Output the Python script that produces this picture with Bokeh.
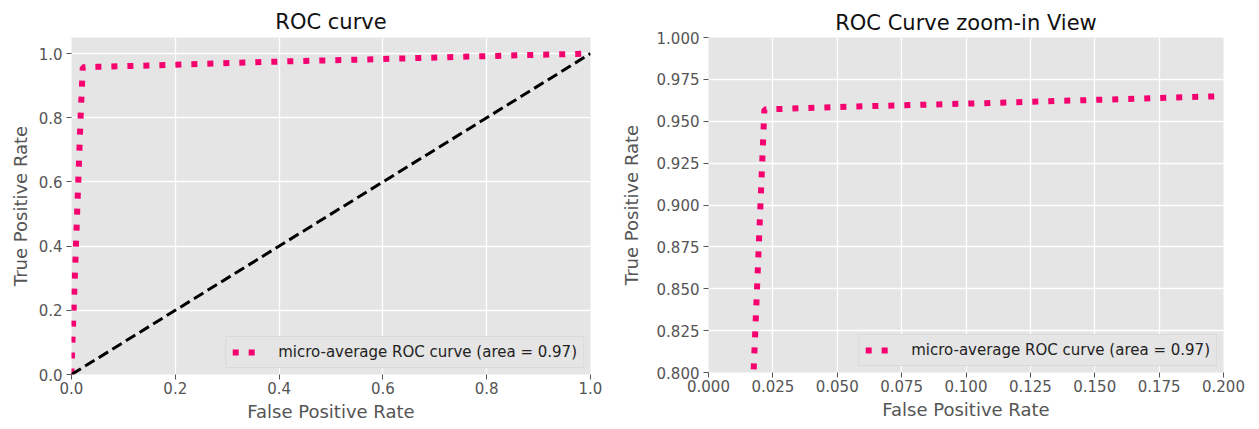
from bokeh.plotting import figure
from bokeh.layouts import row
from bokeh.models import Range1d, FixedTicker, PrintfTickFormatter
from bokeh.embed import file_html
from bokeh.resources import INLINE

# ROC data
fpr = [0.0, 0.0, 0.0175, 0.0217, 0.05, 0.1, 0.2, 0.4, 0.6, 0.8, 1.0]
tpr = [0.0, 0.02, 0.80, 0.957, 0.9585, 0.9605, 0.965, 0.975, 0.983, 0.992, 1.0]
chance_x = [0.0, 1.0]
chance_y = [0.0, 1.0]
legend_text = "micro-average ROC curve (area = 0.97)"

left_xticks = [0.0, 0.2, 0.4, 0.6, 0.8, 1.0]
left_yticks = [0.0, 0.2, 0.4, 0.6, 0.8, 1.0]
right_xticks = [0.0, 0.025, 0.05, 0.075, 0.1, 0.125, 0.15, 0.175, 0.2]
right_yticks = [0.8, 0.825, 0.85, 0.875, 0.9, 0.925, 0.95, 0.975, 1.0]

PINK = "#f5006f"
BG = "#e5e5e5"
FONT = "DejaVu Sans"


def make_fig(title, fw, fh, xr, yr, xt, yt, fmtx, fmty, left, right, top,
             ylab_standoff, title_standoff):
    p = figure(frame_width=fw, frame_height=fh, x_range=Range1d(*xr), y_range=Range1d(*yr),
               output_backend="svg", toolbar_location=None, title=title,
               min_border_left=left, min_border_right=right, min_border_top=top,
               min_border_bottom=40)
    p.background_fill_color = BG
    p.border_fill_color = "white"
    p.outline_line_color = None
    p.title.text_font = FONT
    p.title.text_font_size = "21px"
    p.title.text_font_style = "normal"
    p.title.text_color = "#111111"
    p.title.align = "center"
    p.title.standoff = title_standoff
    for ax in (p.xaxis[0], p.yaxis[0]):
        ax.axis_line_color = None
        ax.major_tick_line_color = "#555555"
        ax.major_tick_in = 0
        ax.major_tick_out = 5
        ax.minor_tick_line_color = None
        ax.major_label_text_font = FONT
        ax.major_label_text_font_size = "15px"
        ax.major_label_text_color = "#555555"
        ax.axis_label_text_font = FONT
        ax.axis_label_text_font_size = "18px"
        ax.axis_label_text_font_style = "normal"
        ax.axis_label_text_color = "#555555"
    p.xaxis[0].ticker = FixedTicker(ticks=xt)
    p.yaxis[0].ticker = FixedTicker(ticks=yt)
    p.xaxis[0].formatter = PrintfTickFormatter(format=fmtx)
    p.yaxis[0].formatter = PrintfTickFormatter(format=fmty)
    p.xaxis[0].major_label_standoff = 2
    p.yaxis[0].major_label_standoff = 4
    p.xaxis[0].axis_label_standoff = 4
    p.yaxis[0].axis_label_standoff = ylab_standoff
    p.xaxis[0].axis_label = "False Positive Rate"
    p.yaxis[0].axis_label = "True Positive Rate"
    p.grid.grid_line_color = "white"
    p.grid.grid_line_width = 1.3
    return p


def style_legend(p):
    lg = p.legend[0]
    lg.location = "bottom_right"
    lg.margin = 6
    lg.padding = 6
    lg.background_fill_color = BG
    lg.background_fill_alpha = 1.0
    lg.border_line_color = "#d0d0d0"
    lg.border_line_width = 1
    lg.label_text_font = FONT
    lg.label_text_font_size = "15px"
    lg.label_text_color = "#222222"
    lg.glyph_width = 30
    lg.glyph_height = 18
    lg.label_standoff = 16
    lg.label_height = 18


p1 = make_fig("ROC curve", 519, 337, (0.0, 1.0), (0.0, 1.05), left_xticks, left_yticks,
              "%.1f", "%.1f", 71, 27, 33, 5, 8)
p1.line(fpr, tpr, line_color=PINK, line_width=6, line_dash="6 10",
        legend_label=legend_text)
p1.line(chance_x, chance_y, line_color="black", line_width=3, line_dash="11 5")
style_legend(p1)

p2 = make_fig("ROC Curve zoom-in View", 515, 335, (0.0, 0.2), (0.8, 1.0), right_xticks,
              right_yticks, "%.3f", "%.3f", 87, 25, 37, 12, 6)
p2.line(fpr, tpr, line_color=PINK, line_width=6, line_dash="6 10",
        legend_label=legend_text)
style_legend(p2)

layout = row(p1, p2)
open("out.html", "w").write(file_html(layout, INLINE))
